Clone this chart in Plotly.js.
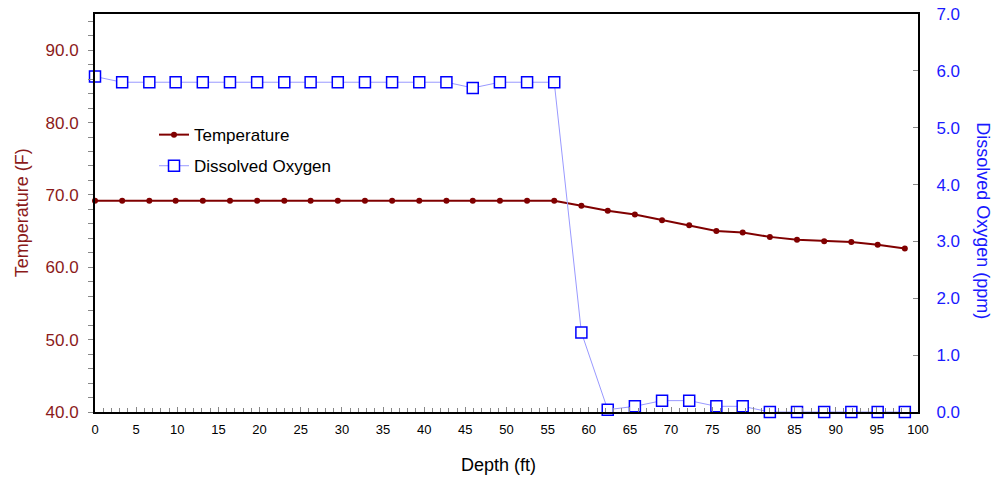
<!DOCTYPE html>
<html>
<head>
<meta charset="utf-8">
<script src="https://cdn.plot.ly/plotly-3.0.1.min.js"></script>
<style>html,body{margin:0;padding:0;background:#fff;}#chart{width:1008px;height:479px;}</style>
</head>
<body>
<div id="chart"></div>
<script>
const depth = [0, 3.3, 6.6, 9.8, 13.1, 16.4, 19.7, 23.0, 26.2, 29.5, 32.8, 36.1, 39.4, 42.7, 45.9, 49.2, 52.5, 55.8, 59.1, 62.3, 65.6, 68.9, 72.2, 75.5, 78.7, 82.0, 85.3, 88.6, 91.9, 95.1, 98.4];
const temperature = [69.2, 69.2, 69.2, 69.2, 69.2, 69.2, 69.2, 69.2, 69.2, 69.2, 69.2, 69.2, 69.2, 69.2, 69.2, 69.2, 69.2, 69.2, 68.5, 67.8, 67.3, 66.5, 65.8, 65.0, 64.8, 64.2, 63.8, 63.6, 63.5, 63.1, 62.6];
const oxygen = [5.9, 5.8, 5.8, 5.8, 5.8, 5.8, 5.8, 5.8, 5.8, 5.8, 5.8, 5.8, 5.8, 5.8, 5.7, 5.8, 5.8, 5.8, 1.4, 0.04, 0.1, 0.2, 0.2, 0.1, 0.1, 0.0, 0.0, 0.0, 0.0, 0.0, 0.0];
const seriesNames = ["Temperature", "Dissolved Oxygen"];

const FONT = "Liberation Sans, Arial, sans-serif";
const RED = "#800000";
const REDTXT = "#8b1a1a";
const BLUE = "#1a1aff";

const traces = [
  {
    x: depth, y: temperature, name: seriesNames[0], type: "scatter", mode: "lines+markers",
    line: {color: RED, width: 2}, marker: {color: RED, size: 6, symbol: "circle"},
    yaxis: "y", cliponaxis: false, legendgroup: "a"
  },
  {
    x: depth, y: oxygen, name: seriesNames[1], type: "scatter", mode: "lines+markers",
    line: {color: "#9999ff", width: 1}, marker: {color: "#ffffff", size: 11, symbol: "square", line: {color: "#0000ff", width: 1.5}},
    yaxis: "y2", cliponaxis: false, legendgroup: "b"
  }
];

const layout = {
  width: 1008, height: 479,
  margin: {l: 95, r: 90, t: 14, b: 67},
  paper_bgcolor: "#fff", plot_bgcolor: "#fff",
  font: {family: FONT, size: 16, color: "#000"},
  showlegend: true,
  legend: {x: 0.0717, y: 0.741, xanchor: "left", yanchor: "top", bgcolor: "rgba(0,0,0,0)", font: {size: 17, color: "#000"}, tracegroupgap: 6},
  xaxis: {
    range: [0, 100], dtick: 5, tick0: 0, showgrid: false, zeroline: false,
    showline: true, linecolor: "#000", linewidth: 2, mirror: true,
    ticks: "inside", ticklen: 5, tickcolor: "#888", tickwidth: 1,
    minor: {dtick: 1, ticks: "inside", ticklen: 4, tickcolor: "#888"},
    tickfont: {size: 13, color: "#000"}, ticklabelstandoff: 4
  },
  yaxis: {
    range: [40, 95], dtick: 10, tick0: 40, tickformat: ".1f", showgrid: false, zeroline: false,
    showline: true, linecolor: "#000", linewidth: 2,
    ticks: "outside", ticklen: 5, tickcolor: "#888", tickwidth: 1,
    minor: {dtick: 2, ticks: "outside", ticklen: 5, tickcolor: "#888"},
    tickfont: {size: 17, color: REDTXT}, ticklabelstandoff: 6
  },
  yaxis2: {
    range: [0, 7], dtick: 1, tick0: 0, tickformat: ".1f", showgrid: false, zeroline: false,
    overlaying: "y", side: "right", anchor: "x",
    showline: true, linecolor: "#000", linewidth: 2,
    ticks: "inside", ticklen: 5, tickcolor: "#888", tickwidth: 1,
    tickfont: {size: 17, color: BLUE}, ticklabelstandoff: 13
  },
  annotations: [
    {text: "Depth (ft)", xref: "paper", yref: "paper", x: 0.49, y: -0.133, xanchor: "center", yanchor: "middle", showarrow: false, font: {size: 18, color: "#000"}},
    {text: "Temperature (F)", xref: "paper", yref: "paper", x: -0.0887, y: 0.502, xanchor: "center", yanchor: "middle", textangle: -90, showarrow: false, font: {size: 18, color: REDTXT}},
    {text: "Dissolved Oxygen (ppm)", xref: "paper", yref: "paper", x: 1.079, y: 0.482, xanchor: "center", yanchor: "middle", textangle: 90, showarrow: false, font: {size: 18, color: BLUE}}
  ]
};

Plotly.newPlot("chart", traces, layout, {staticPlot: true, displayModeBar: false});
</script>
</body>
</html>
